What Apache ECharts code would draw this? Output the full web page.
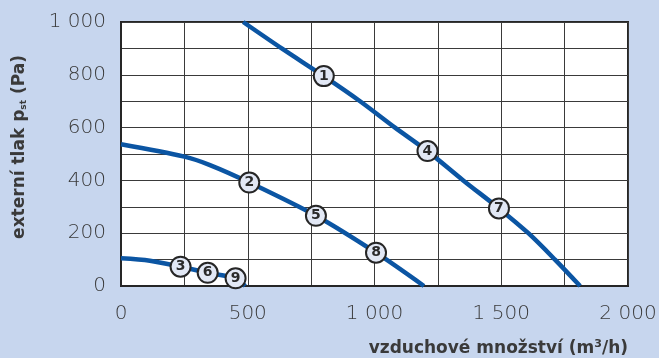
<!DOCTYPE html>
<html>
<head>
<meta charset="utf-8">
<script src="https://cdn.jsdelivr.net/npm/echarts@6/dist/echarts.min.js"></script>
<style>
  html, body { margin: 0; padding: 0; background: #c7d6ee; }
  #chart { width: 659px; height: 358px; }
</style>
</head>
<body>
<div id="chart"></div>
<script>
// Fan curves: airflow (m3/h) vs. external static pressure (Pa)
const curveHigh = [[482, 1000], [634, 900], [800, 795], [943, 700], [1081, 600], [1209, 511], [1350, 400], [1491, 294], [1607, 200], [1712, 100], [1811, 0]];
const curveMid  = [[0, 537], [250, 490], [351, 458], [506, 392], [769, 266], [1006, 126], [1195, 0]];
const curveLow  = [[0, 105], [114, 96], [235, 73], [342, 50], [452, 29], [490, 0]];

// Numbered operating-point markers placed on the curves
const markerNames  = ['1', '2', '3', '4', '5', '6', '7', '8', '9'];
const markerPoints = [[800, 795], [506, 392], [235, 73], [1209, 511], [769, 266], [342, 50], [1491, 294], [1006, 126], [452, 29]];

const xTicks = { min: 0, max: 2000, step: 500 };
const yTicks = { min: 0, max: 1000, step: 200 };

const textColor = '#3a3a3a';
const curveColor = '#0b55a3';
const gridColor = '#3a3a3a';

function spaced(v) {
  return String(v).replace(/\B(?=(\d{3})+(?!\d))/g, ' ');
}

function curveSeries(data) {
  return {
    type: 'line',
    data: data,
    smooth: 0.3,
    showSymbol: false,
    silent: true,
    lineStyle: { color: curveColor, width: 4.5 },
    z: 3
  };
}

const chart = echarts.init(document.getElementById('chart'), null, { renderer: 'canvas' });

chart.setOption({
  backgroundColor: '#c7d6ee',
  animation: false,
  grid: {
    left: 121, right: 31, top: 22, bottom: 72,
    containLabel: false,
    outerBoundsMode: 'none',
    show: true,
    backgroundColor: '#ffffff',
    borderColor: '#262626',
    borderWidth: 2
  },
  xAxis: {
    type: 'value',
    min: xTicks.min, max: xTicks.max, interval: xTicks.step,
    name: 'vzduchové množství (m{sup|3}/h)',
    nameLocation: 'end',
    nameGap: 0,
    nameTextStyle: {
      color: textColor, fontFamily: 'DejaVu Sans', fontWeight: 'bold', fontSize: 17,
      align: 'right', verticalAlign: 'middle', padding: [126, 0, 0, 0],
      rich: { sup: { fontSize: 11, fontWeight: 'bold', fontFamily: 'DejaVu Sans', color: textColor, verticalAlign: 'top', padding: [0, 0, 9, 0] } }
    },
    axisLine: { show: true, lineStyle: { color: '#262626', width: 2 } },
    axisTick: { show: false },
    minorTick: { show: false, splitNumber: 2 },
    splitLine: { show: true, lineStyle: { color: gridColor, width: 1 } },
    minorSplitLine: { show: true, lineStyle: { color: gridColor, width: 1 } },
    axisLabel: {
      color: textColor, fontFamily: 'DejaVu Sans', fontWeight: 200, fontSize: 20, margin: 18,
      formatter: spaced
    }
  },
  yAxis: {
    type: 'value',
    min: yTicks.min, max: yTicks.max, interval: yTicks.step,
    name: 'externí tlak p{sub|st} (Pa)',
    nameLocation: 'middle',
    nameGap: 93,
    nameRotate: 90,
    nameTextStyle: {
      color: textColor, fontFamily: 'DejaVu Sans', fontWeight: 'bold', fontSize: 17,
      padding: [0, 0, 0, 14],
      rich: { sub: { fontSize: 9, fontWeight: 'bold', fontFamily: 'DejaVu Sans', color: textColor, verticalAlign: 'bottom', padding: [7, 0, 0, 0] } }
    },
    axisLine: { show: true, lineStyle: { color: '#262626', width: 2 } },
    axisTick: { show: false },
    minorTick: { show: false, splitNumber: 2 },
    splitLine: { show: true, lineStyle: { color: gridColor, width: 1 } },
    minorSplitLine: { show: true, lineStyle: { color: gridColor, width: 1 } },
    axisLabel: {
      color: textColor, fontFamily: 'DejaVu Sans', fontWeight: 200, fontSize: 20, margin: 15,
      formatter: spaced
    }
  },
  series: [
    curveSeries(curveHigh),
    curveSeries(curveMid),
    curveSeries(curveLow),
    {
      type: 'scatter',
      silent: true,
      z: 5,
      symbol: 'circle',
      symbolSize: 20,
      data: markerPoints.map((p, i) => ({ value: p, name: markerNames[i] })),
      itemStyle: { color: '#e2e8f5', borderColor: '#262626', borderWidth: 2, opacity: 1 },
      label: {
        show: true, position: 'inside',
        formatter: p => p.name,
        color: '#2a2a2a', fontFamily: 'DejaVu Sans', fontWeight: 'bold', fontSize: 14
      }
    }
  ]
});
</script>
</body>
</html>
